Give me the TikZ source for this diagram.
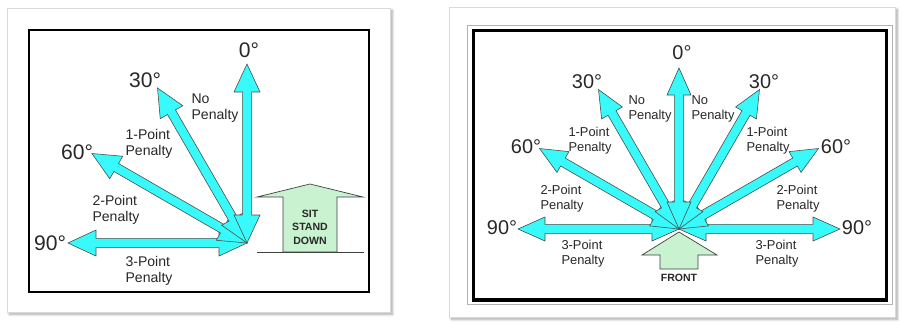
\documentclass[tikz,border=0pt]{standalone}
\usepackage{fontspec}
\setmainfont{Liberation Sans}
\usetikzlibrary{shadows.blur}

\definecolor{spokecyan}{RGB}{56,250,250}
\definecolor{mint}{RGB}{200,242,208}
\definecolor{inkgray}{RGB}{40,40,40}

% double headed spoke along the local x axis: length, head length, head half width
\newcommand{\spokepath}[3]{(0,0) -- (#2,#3) -- (#2,4.6) -- (#1-#2,4.6) -- (#1-#2,#3) -- (#1,0) -- (#1-#2,-#3) -- (#1-#2,-4.6) -- (#2,-4.6) -- (#2,-#3) -- cycle}

\tikzset{
  card/.style={draw=black!15, fill=white, line width=0.6pt,
    blur shadow={shadow xshift=2pt, shadow yshift=-2pt, shadow blur steps=6, shadow opacity=35}},
  spoke/.style={draw=black!70, fill=spokecyan, line width=0.5pt},
  facing/.style={draw=black!75, fill=mint, line width=0.6pt},
  bigdeg/.style={inner sep=0pt, text=inkgray, font=\fontsize{18}{20}\selectfont},
  smalldeg/.style={inner sep=0pt, text=inkgray, font=\fontsize{17}{19}\selectfont},
  penalty/.style={inner sep=0pt, align=left, text=inkgray, font=\fontsize{12}{14}\selectfont},
  penaltysm/.style={inner sep=0pt, align=left, text=inkgray, font=\fontsize{11}{13}\selectfont},
  boxtext/.style={inner sep=0pt, align=center, text=inkgray, font=\bfseries\fontsize{9}{11.5}\selectfont}
}

\begin{document}
\begin{tikzpicture}[x=0.03cm, y=-0.03cm]
    \useasboundingbox (0,0) rectangle (902,322);

    % left panel
    \draw[card] (7,8) rectangle (390,312);
    \draw[black, line width=1.6pt] (29,30) rectangle (369,292);
    \coordinate (cl) at (247,243);
    \foreach \a in {180,150,120,90} {
        \begin{scope}[shift={(cl)}, rotate=\a]
            \draw[spoke] \spokepath{179}{28}{13};
        \end{scope}
    }

    \node[bigdeg] (zerol) at (249,50) {0°};
    \node[bigdeg] (thirtyl) at (145,80) {30°};
    \node[bigdeg] (sixtyl) at (77,152) {60°};
    \node[bigdeg] (ninetyl) at (50,243) {90°};

    \node[penalty] (nopenl) at (215,108) {No\\Penalty};
    \node[penalty] (onepenl) at (149,144) {1-Point\\Penalty};
    \node[penalty] (twopenl) at (116,210) {2-Point\\Penalty};
    \node[penalty] (threepenl) at (149,271) {3-Point\\Penalty};

    \draw[facing] (257,197) -- (310,184) -- (363,197) -- (337,197) -- (337,252)
        -- (283,252) -- (283,197) -- cycle;
    \draw[black!75, line width=0.6pt] (257,252) -- (364,252);
    \node[boxtext] (sitstand) at (310,227) {SIT\\STAND\\DOWN};

    % right panel
    \draw[card] (449,7) rectangle (895,317);
    \draw[black!30, line width=0.6pt] (467,25) rectangle (892,304);
    \draw[black, line width=3pt] (473.5,30.5) rectangle (886.5,300);
    \coordinate (cr) at (679,229);
    \foreach \a in {180,0,150,30,120,60,90} {
        \begin{scope}[shift={(cr)}, rotate=\a]
            \draw[spoke] \spokepath{161}{27}{12};
        \end{scope}
    }

    \node[smalldeg] (zeror) at (682,53) {0°};
    \node[smalldeg] (thirtyrl) at (587,82) {30°};
    \node[smalldeg] (thirtyrr) at (764,82) {30°};
    \node[smalldeg] (sixtyrl) at (526,147) {60°};
    \node[smalldeg] (sixtyrr) at (836,147) {60°};
    \node[smalldeg] (ninetyrl) at (502,228) {90°};
    \node[smalldeg] (ninetyrr) at (857,228) {90°};

    \node[penaltysm] (nopenrl) at (650,109) {No\\Penalty};
    \node[penaltysm] (nopenrr) at (713,109) {No\\Penalty};
    \node[penaltysm] (onepenrl) at (590,141) {1-Point\\Penalty};
    \node[penaltysm] (onepenrr) at (768,141) {1-Point\\Penalty};
    \node[penaltysm] (twopenrl) at (562,199) {2-Point\\Penalty};
    \node[penaltysm] (twopenrr) at (798,199) {2-Point\\Penalty};
    \node[penaltysm] (threepenrl) at (583,254) {3-Point\\Penalty};
    \node[penaltysm] (threepenrr) at (777,254) {3-Point\\Penalty};

    \draw[facing] (679,232) -- (717,255) -- (698,255) -- (698,269) -- (660,269)
        -- (660,255) -- (642,255) -- cycle;
    \node[boxtext] (front) at (679,278) {FRONT};
\end{tikzpicture}
\end{document}
